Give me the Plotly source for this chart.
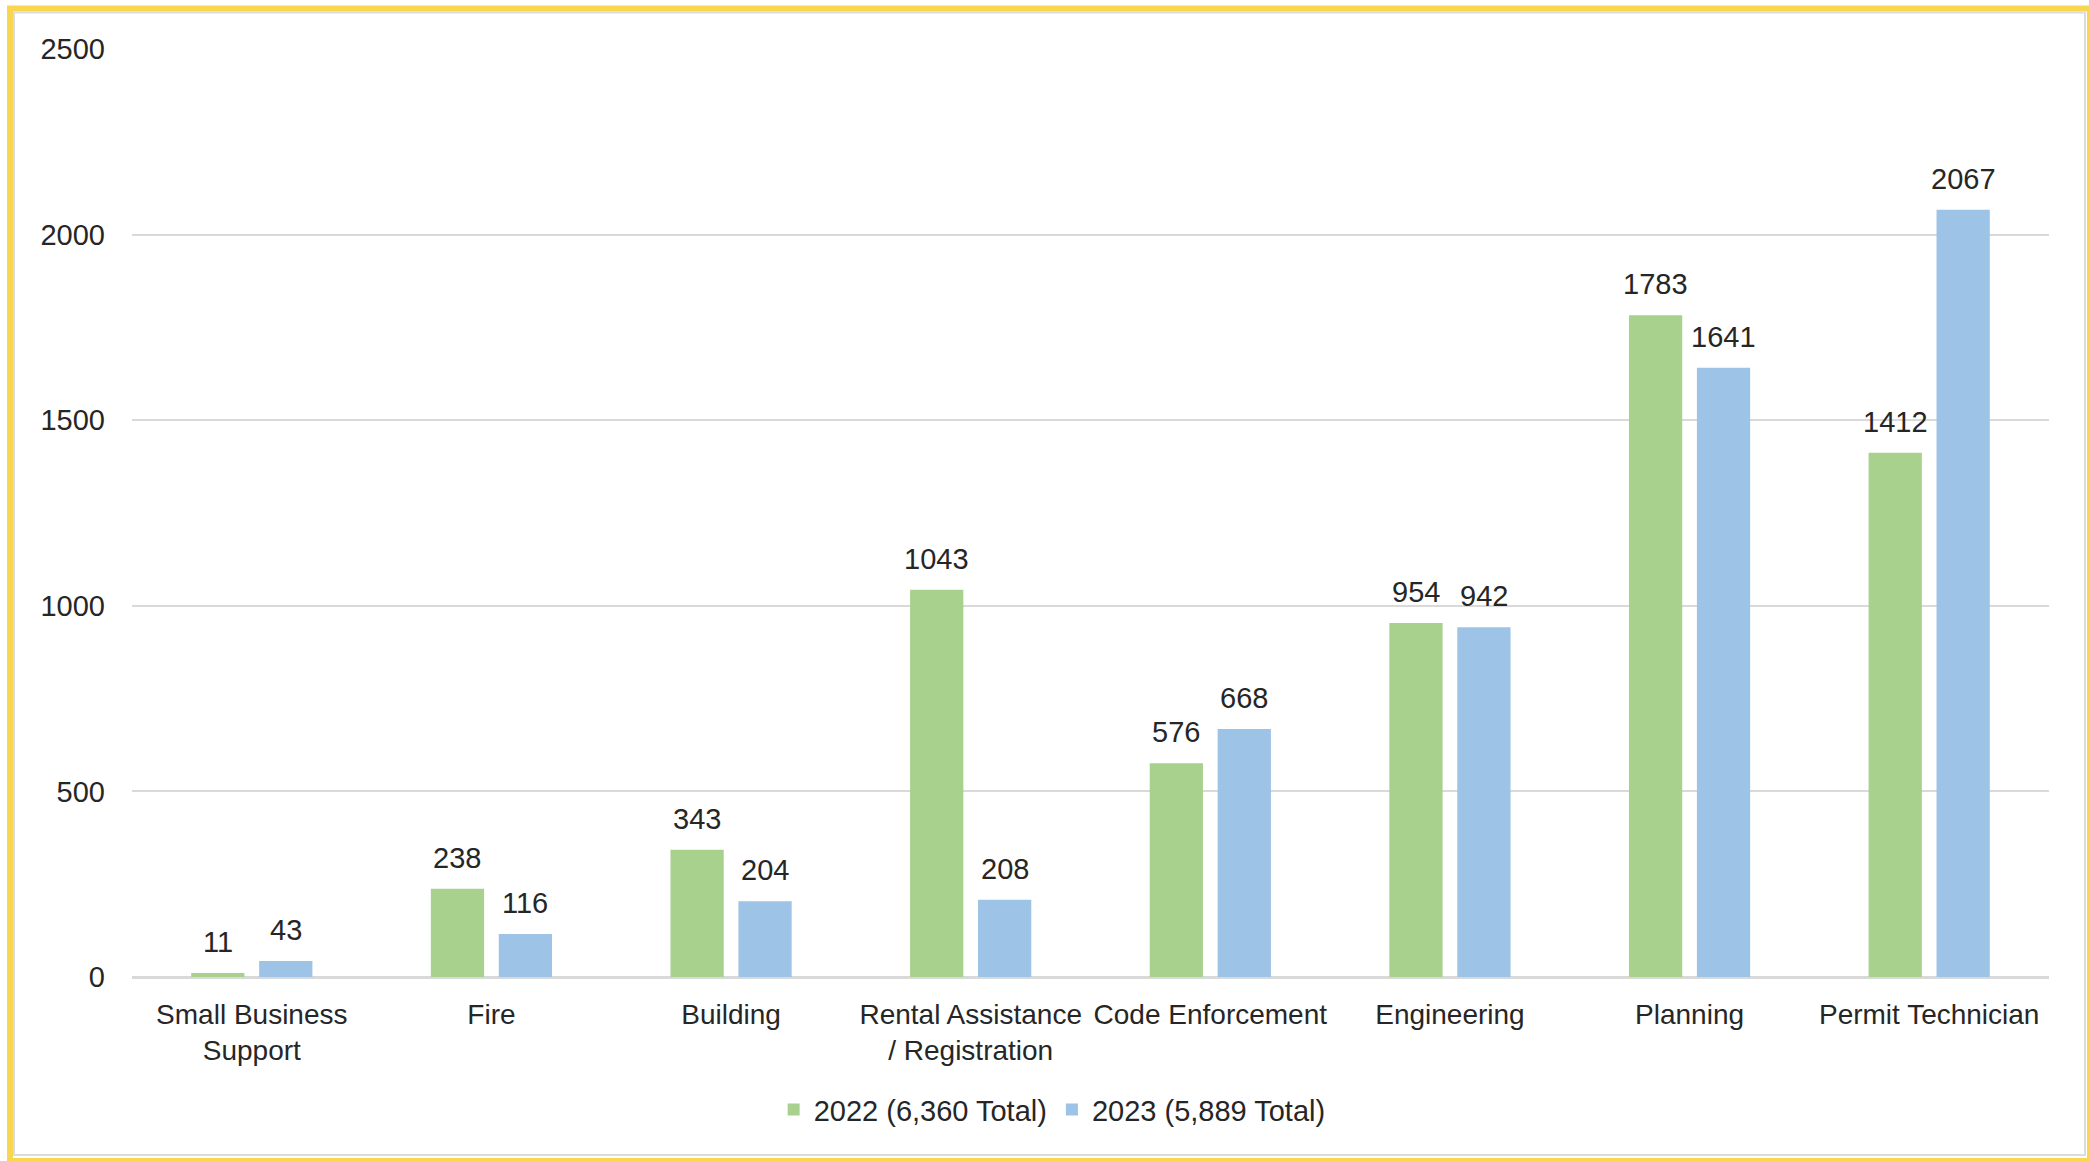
import plotly.graph_objects as go

categories = [
    "Small Business<br>Support",
    "Fire",
    "Building",
    "Rental Assistance<br>/ Registration",
    "Code Enforcement",
    "Engineering",
    "Planning",
    "Permit Technician",
]
values_2022 = [11, 238, 343, 1043, 576, 954, 1783, 1412]
values_2023 = [43, 116, 204, 208, 668, 942, 1641, 2067]
series_names = ["2022 (6,360 Total)", "2023 (5,889 Total)"]
y_ticks = [0, 500, 1000, 1500, 2000, 2500]

GREEN = "#A9D18E"
BLUE = "#9DC3E6"
TEXT = "#262626"
FONT = "Liberation Sans, Arial, sans-serif"

fig = go.Figure()
fig.add_trace(go.Bar(x=categories, y=values_2022, name=series_names[0],
                     marker=dict(color=GREEN, line=dict(width=0))))
fig.add_trace(go.Bar(x=categories, y=values_2023, name=series_names[1],
                     marker=dict(color=BLUE, line=dict(width=0))))

# value labels above each bar (annotations give more control on the gap)
annotations = []
for vals, shift in ((values_2022, -34), (values_2023, 34)):
    for cat, v in zip(categories, vals):
        annotations.append(dict(
            x=cat, y=v, xref="x", yref="y", text=str(v), showarrow=False,
            xshift=shift, yshift=13, yanchor="bottom",
            font=dict(size=29, color=TEXT, family=FONT),
        ))

# window pixels (body margin is removed in the page below)
W, H = 2089, 1161
L, T = 132, 49
R, B = W - 2049, H - 977
pw, ph = W - L - R, H - T - B


def px_x(p):
    return (p - L) / pw


def px_y(p):
    return (H - B - p) / ph


# yellow frame round the whole picture, with a thin grey inner edge
fig.add_shape(type="rect", xref="paper", yref="paper",
              x0=px_x(10), x1=px_x(2090), y0=px_y(1161), y1=px_y(8.5),
              line=dict(color="#F9D650", width=6), fillcolor="rgba(0,0,0,0)",
              layer="above")
fig.add_shape(type="rect", xref="paper", yref="paper",
              x0=px_x(14), x1=px_x(2085), y0=px_y(1155), y1=px_y(12.5),
              line=dict(color="#DCDCDC", width=2), fillcolor="rgba(0,0,0,0)",
              layer="above")

fig.update_layout(
    width=W, height=H,
    margin=dict(l=L, r=R, t=T, b=B, autoexpand=False),
    paper_bgcolor="white", plot_bgcolor="white",
    barmode="group", bargap=0.433, bargroupgap=0.216,
    font=dict(family=FONT, size=29, color=TEXT),
    annotations=annotations,
    showlegend=True,
    legend=dict(orientation="h", x=0.48, xanchor="center", y=-0.143,
                yanchor="middle", font=dict(size=29, color=TEXT),
                itemwidth=30, traceorder="normal"),
    xaxis=dict(showgrid=False, showline=False, zeroline=False, ticks="",
               tickfont=dict(size=28, color=TEXT), ticklabelstandoff=18),
    yaxis=dict(range=[0, 2500], tickvals=y_ticks, showgrid=True,
               gridcolor="#D9D9D9", gridwidth=2, zeroline=True,
               zerolinecolor="#D9D9D9", zerolinewidth=3, showline=False,
               tickfont=dict(size=29, color=TEXT), ticklabelstandoff=26),
)

fig.write_html(
    "out.html",
    config={"displayModeBar": False},
    post_script="document.body.style.margin='0';document.body.style.overflow='hidden';",
)
